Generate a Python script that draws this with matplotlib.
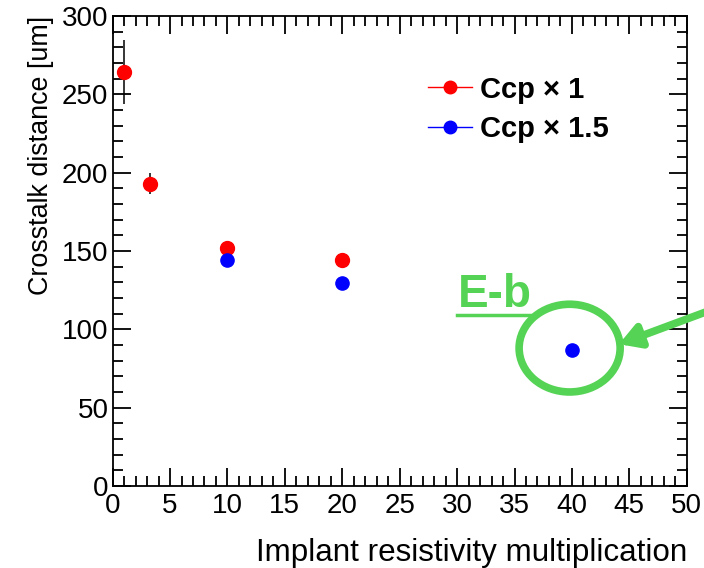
import matplotlib
matplotlib.use('Agg')
import matplotlib.pyplot as plt
from matplotlib.patches import Ellipse
from matplotlib.ticker import MultipleLocator

plt.rcParams['font.family'] = ['Liberation Sans', 'DejaVu Sans']

# data
x_ccp1 = [1, 3.25, 10, 20]
y_ccp1 = [264, 193, 152, 144]
e_ccp1 = [20.5, 6.5, 2, 2]

x_ccp15 = [10, 20, 40]
y_ccp15 = [144, 129.5, 87]
e_ccp15 = [1.5, 1.5, 1.5]

green = '#55d355'

fig = plt.figure(figsize=(7.04, 5.68), dpi=100)
ax = fig.add_axes([0.160, 0.1444, 0.8155, 0.8275])

ax.errorbar(x_ccp1, y_ccp1, yerr=e_ccp1, fmt='o', color='red', ms=10,
            ecolor='black', elinewidth=1.1, capsize=0, zorder=3)
ax.errorbar(x_ccp15, y_ccp15, yerr=e_ccp15, fmt='o', color='blue', ms=9.5,
            ecolor='black', elinewidth=1.1, capsize=0, zorder=3)

ax.set_xlim(0, 50)
ax.set_ylim(0, 300)
ax.xaxis.set_major_locator(MultipleLocator(5))
ax.xaxis.set_minor_locator(MultipleLocator(1))
ax.yaxis.set_major_locator(MultipleLocator(50))
ax.yaxis.set_minor_locator(MultipleLocator(10))
ax.tick_params(which='both', direction='in', top=True, right=True,
               labelsize=20, width=1.3)
ax.tick_params(axis='x', pad=5)
ax.tick_params(axis='y', pad=3)
ax.tick_params(which='major', length=13)
ax.tick_params(which='minor', length=7)
for s in ax.spines.values():
    s.set_linewidth(1.3)

ax.set_xlabel('Implant resistivity multiplication', fontsize=22.6, loc='right', labelpad=14)
ax.set_ylabel('Crosstalk distance [um]', fontsize=19.4, loc='top', labelpad=6)

# legend
h1, = ax.plot([], [], '-o', color='red', lw=1, ms=9)
h2, = ax.plot([], [], '-o', color='blue', lw=1, ms=9)
ax.legend([h1, h2], ['Ccp × 1', 'Ccp × 1.5'], loc='upper left',
          bbox_to_anchor=(0.549, 0.873), frameon=False, handlelength=1.5,
          handletextpad=0.3, labelspacing=0.4, borderpad=0, borderaxespad=0,
          prop={'weight': 'bold', 'size': 21})

# green annotation
ax.add_patch(Ellipse((39.8, 88), 8.8, 56, fill=False, ec=green, lw=5.5, clip_on=False, zorder=4))
ax.text(30.1, 114, 'E-b', color=green, fontsize=33, fontweight='bold',
        ha='left', va='baseline', zorder=4)
ax.plot([30.0, 36.9], [109, 109], color=green, lw=2.5, zorder=4)
ax.annotate('', xy=(44.1, 90.5), xytext=(52.0, 112),
            arrowprops=dict(arrowstyle='-|>,head_length=1.2,head_width=0.7',
                            color=green, lw=5.5, shrinkA=0, shrinkB=0),
            annotation_clip=False, zorder=5)

fig.savefig('out.png', dpi=100)
